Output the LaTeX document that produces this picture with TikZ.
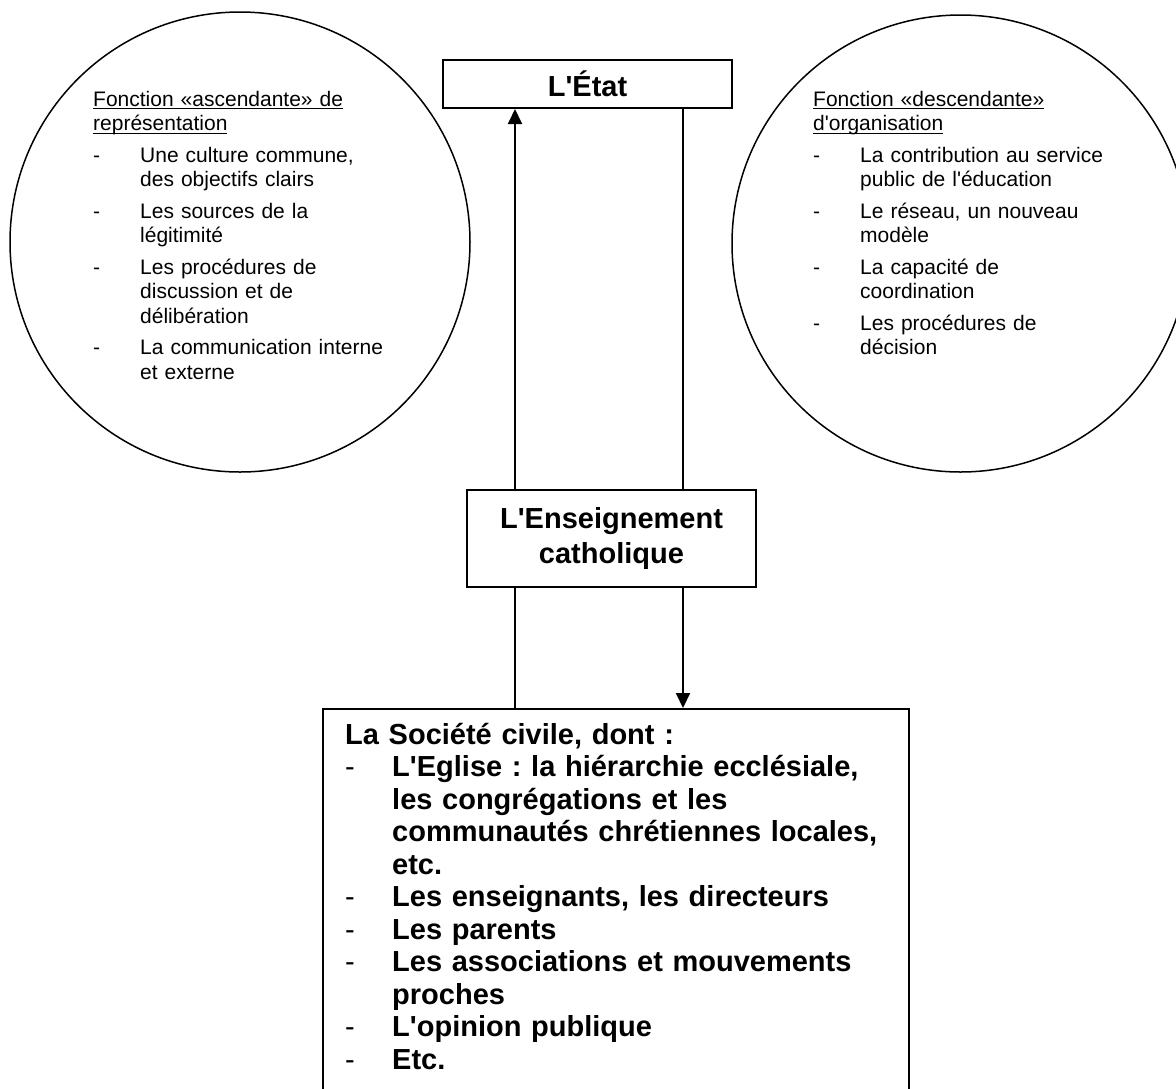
\documentclass[tikz,border=0pt]{standalone}
\usepackage{fontspec}
\setmainfont{Liberation Sans}[Ligatures=TeXOff]
\usetikzlibrary{arrows.meta,calc}
\newcommand{\dashitem}[2][47pt]{\par\hangindent=#1\hangafter=1\noindent\makebox[#1][l]{-}#2\par}
\newcommand{\undl}[1]{\leavevmode\setbox0\hbox{#1}\rlap{\rule[-3pt]{\wd0}{1.2pt}}\box0}
\tikzset{
    round zone/.style = {
        draw, circle,
        line width=1.5pt,
        inner sep=0pt,
        },
    main box/.style = {
        draw, rectangle,
        line width=2pt,
        inner sep=0pt,
        align=center,
        font=\fontsize{29}{35}\selectfont\bfseries,
        },
    zone text/.style = {
        anchor=north west,
        inner sep=0pt,
        text width=330pt,
        align=left,
        font=\fontsize{21}{24.5}\selectfont,
        },
    civil text/.style = {
        anchor=north west,
        inner sep=0pt,
        text width=560pt,
        align=left,
        font=\fontsize{29}{32.5}\selectfont,
        },
    link/.style = {
        line width=2pt,
        },
    link arrow/.style = {
        line width=2pt,
        -{Triangle[length=15pt,width=14pt]},
        },
}
\begin{document}
\begin{tikzpicture}[x=1pt,y=-1pt]
    \useasboundingbox (0,0) rectangle (1176,1088);

    % the two functions
    \node[round zone, minimum size=460pt] (ascend) at (240,242) {};
    \node[round zone, minimum size=457pt] (descend) at (960.5,243.5) {};

    \node[zone text] (ascend list) at (93,91) {%
        \parskip=0pt
        \undl{Fonction «ascendante» de}\newline\undl{représentation}\par
        \parskip=7pt
        \dashitem{Une culture commune,\newline des objectifs clairs}
        \dashitem{Les sources de la\newline légitimité}
        \dashitem{Les procédures de\newline discussion et de\newline délibération}
        \dashitem{La communication interne\newline et externe}};

    \node[zone text] (descend list) at (813,91) {%
        \parskip=0pt
        \undl{Fonction «descendante»}\newline\undl{d'organisation}\par
        \parskip=7pt
        \dashitem{La contribution au service\newline public de l'éducation}
        \dashitem{Le réseau, un nouveau\newline modèle}
        \dashitem{La capacité de\newline coordination}
        \dashitem{Les procédures de\newline décision}};

    % boxes
    \node[main box, minimum width=289pt, minimum height=48pt] (etat) at (587.5,84) {L'État};
    \node[main box, minimum width=289pt, minimum height=97pt] (enseignement) at (611.5,538.5) {L'Enseignement\\catholique};
    \node[draw, line width=2pt, inner sep=0pt, anchor=north west,
          minimum width=586pt, minimum height=420pt] (societe) at (322,708) {};

    \node[civil text] (civil list) at (345,723) {%
        \frenchspacing\parskip=0pt
        \textbf{La Société civile, dont :}
        \dashitem{\textbf{L'Eglise : la hiérarchie ecclésiale,\newline les congrégations et les\newline communautés chrétiennes locales,\newline etc.}}
        \dashitem{\textbf{Les enseignants, les directeurs}}
        \dashitem{\textbf{Les parents}}
        \dashitem{\textbf{Les associations et mouvements\newline proches}}
        \dashitem{\textbf{L'opinion publique}}
        \dashitem{\textbf{Etc.}}};

    % connectors
    \coordinate (up) at (515,0);
    \coordinate (down) at (683,0);

    \draw[link arrow] (up |- enseignement.north) -- (up |- etat.south);
    \draw[link] (down |- etat.south) -- (down |- enseignement.north);
    \draw[link] (up |- enseignement.south) -- (up |- societe.north);
    \draw[link arrow] (down |- enseignement.south) -- (down |- societe.north);
\end{tikzpicture}
\end{document}
